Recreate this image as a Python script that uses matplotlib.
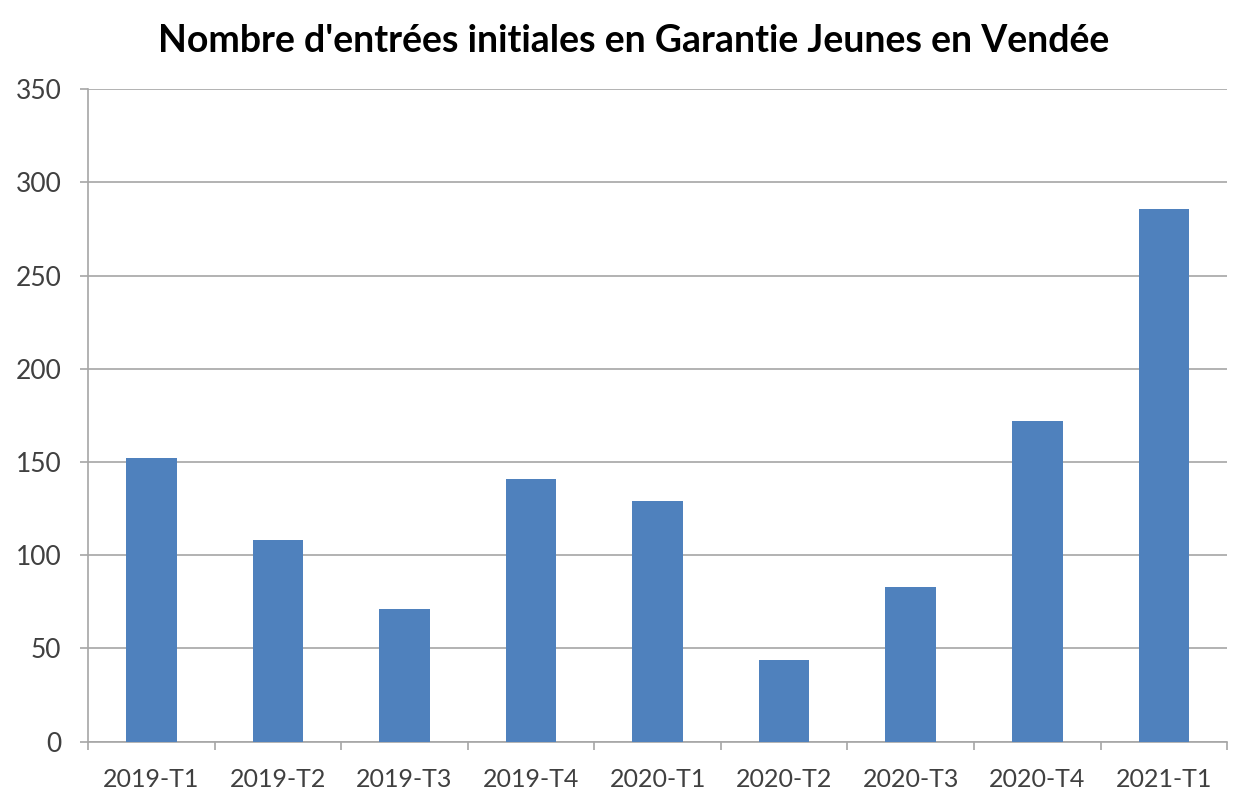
import matplotlib.pyplot as plt
import numpy as np

# trimestres et nombre d'entrées
trimestres = ["2019-T1", "2019-T2", "2019-T3", "2019-T4", "2020-T1",
              "2020-T2", "2020-T3", "2020-T4", "2021-T1"]
entrees = [152, 108, 71, 141, 129, 44, 83, 172, 286]
y_ticks = [0, 50, 100, 150, 200, 250, 300, 350]

plt.rcParams['font.family'] = ['Lato', 'DejaVu Sans']

fig = plt.figure(figsize=(12.37, 7.93), dpi=100, facecolor="white")
ax = fig.add_axes([0.0711, 0.0647, 0.921, 0.8227])

x = np.arange(len(trimestres))
ax.bar(x, entrees, width=0.4, color="#4f81bd", zorder=3)

ax.set_xlim(-0.5, len(trimestres) - 0.5)
ax.set_ylim(0, 350)
ax.set_yticks(y_ticks)
ax.set_yticklabels([str(v) for v in y_ticks])
ax.yaxis.grid(True, color="#a6a6a6", linewidth=1.2, zorder=0)

# ticks de séparation entre catégories, libellés au centre
ax.set_xticks(np.arange(len(trimestres) + 1) - 0.5)
ax.set_xticklabels([])
ax.set_xticks(x, minor=True)
ax.set_xticklabels(trimestres, minor=True)
ax.tick_params(axis="x", which="major", length=6, color="#a6a6a6", width=1.2)
ax.tick_params(axis="x", which="minor", length=0, pad=19, labelsize=18,
               labelcolor="#404040")
ax.tick_params(axis="y", length=6, color="#a6a6a6", width=1.2, pad=13,
               labelsize=19, labelcolor="#404040")

for s in ["top", "right"]:
    ax.spines[s].set_visible(False)
for s in ["left", "bottom"]:
    ax.spines[s].set_color("#a6a6a6")
    ax.spines[s].set_linewidth(1.2)

fig.text(0.512, 0.948, "Nombre d'entrées initiales en Garantie Jeunes en Vendée",
         ha="center", va="center", fontsize=27, fontweight="bold", color="black")

fig.savefig("out.png", dpi=100, facecolor="white")
